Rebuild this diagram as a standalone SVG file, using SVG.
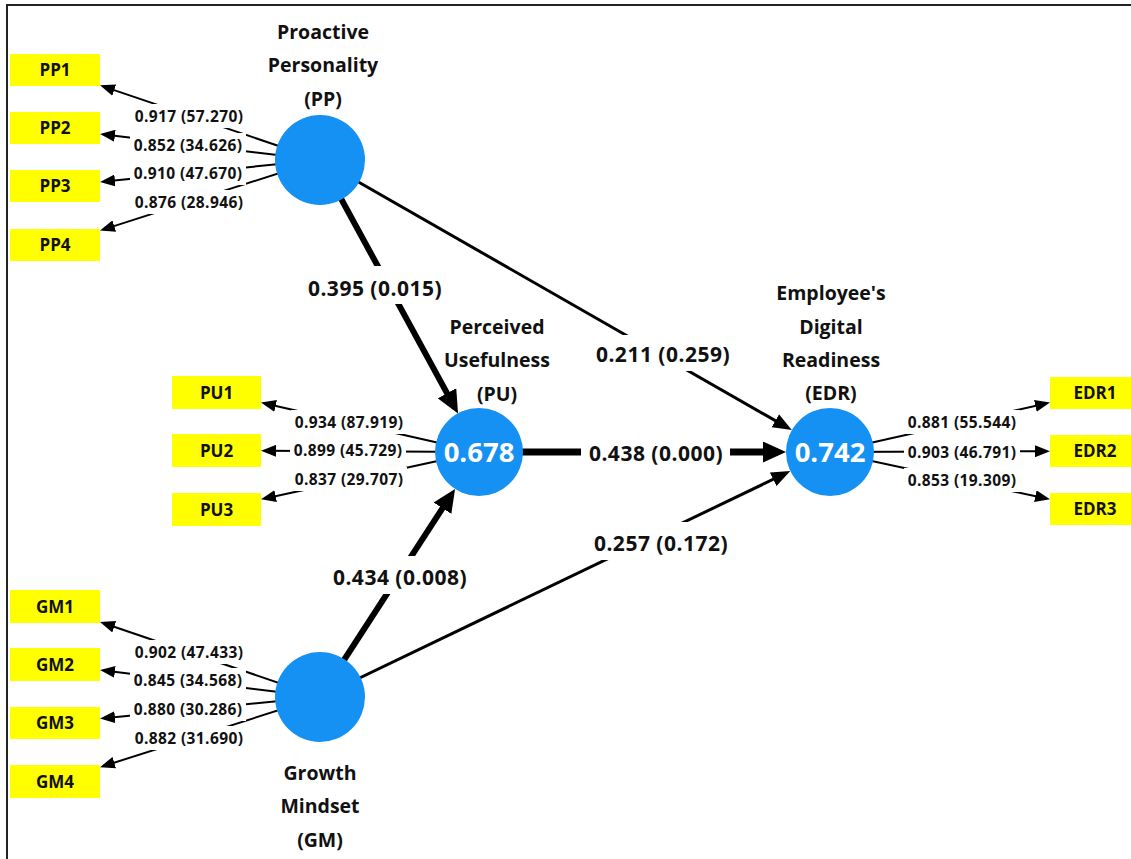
<svg xmlns="http://www.w3.org/2000/svg" width="1131" height="859" viewBox="0 0 1131 859">
<style>
  .bg{fill:#ffffff}
  .frame{stroke:#222;stroke-width:2;fill:none}
  .ld{stroke:#000;stroke-width:2;fill:none}
  .pm{stroke:#000;stroke-width:3;fill:none}
  .pl{stroke:#000;stroke-width:6;fill:none}
  .lab{fill:#fff}
  .lt{font-family:"Open Sans","Noto Sans",sans-serif;font-weight:700;font-size:15.5px;letter-spacing:0.4px;fill:#111;text-anchor:middle}
  .pt{font-family:"Open Sans","Noto Sans",sans-serif;font-weight:700;font-size:21px;letter-spacing:0.5px;fill:#111;text-anchor:middle}
  .tt{font-family:"Open Sans","Noto Sans",sans-serif;font-weight:700;font-size:19.5px;fill:#111;text-anchor:middle}
  .bx{fill:#ffff00}
  .bt{font-family:"Open Sans","Noto Sans",sans-serif;font-weight:700;font-size:17px;fill:#111;text-anchor:middle}
  .lv{fill:#1591f4}
  .vt{font-family:"Open Sans","Noto Sans",sans-serif;font-weight:700;font-size:27.5px;fill:#fff;text-anchor:middle}
</style>
<defs>
  <marker id="aS" markerUnits="userSpaceOnUse" markerWidth="15" markerHeight="12" refX="11" refY="6" orient="auto"><path d="M0,0 L15,6 L0,12 z" fill="#000"/></marker>
  <marker id="aM" markerUnits="userSpaceOnUse" markerWidth="19" markerHeight="15" refX="13" refY="7.5" orient="auto"><path d="M0,0 L19,7.5 L0,15 z" fill="#000"/></marker>
  <marker id="aL" markerUnits="userSpaceOnUse" markerWidth="23" markerHeight="21" refX="15" refY="10.5" orient="auto"><path d="M0,0 L23,10.5 L0,21 z" fill="#000"/></marker>
</defs>
<rect class="bg" x="0" y="0" width="1131" height="859"/>
<path class="frame" d="M7,859 L7,5 L1131,5"/>

<g id="connectors">
  <!-- outer loadings -->
  <line class="ld" x1="320" y1="160" x2="103.8" y2="86.6" marker-end="url(#aS)"/>
  <line class="ld" x1="320" y1="160" x2="104" y2="134.4" marker-end="url(#aS)"/>
  <line class="ld" x1="320" y1="160" x2="104" y2="181.6" marker-end="url(#aS)"/>
  <line class="ld" x1="320" y1="160" x2="103.8" y2="229.4" marker-end="url(#aS)"/>
  <line class="ld" x1="320" y1="697" x2="103.8" y2="623.2" marker-end="url(#aS)"/>
  <line class="ld" x1="320" y1="697" x2="104" y2="670.5" marker-end="url(#aS)"/>
  <line class="ld" x1="320" y1="697" x2="104" y2="718.2" marker-end="url(#aS)"/>
  <line class="ld" x1="320" y1="697" x2="103.8" y2="766" marker-end="url(#aS)"/>
  <line class="ld" x1="479" y1="452" x2="264.9" y2="403.5" marker-end="url(#aS)"/>
  <line class="ld" x1="479" y1="452" x2="265" y2="450.8" marker-end="url(#aS)"/>
  <line class="ld" x1="479" y1="452" x2="264.9" y2="498.5" marker-end="url(#aS)"/>
  <line class="ld" x1="830" y1="452" x2="1046.1" y2="403.5" marker-end="url(#aS)"/>
  <line class="ld" x1="830" y1="452" x2="1046" y2="451.2" marker-end="url(#aS)"/>
  <line class="ld" x1="830" y1="452" x2="1046.1" y2="498.5" marker-end="url(#aS)"/>
  <!-- structural paths -->
  <line class="pl" x1="320" y1="160" x2="454.2" y2="406.4" marker-end="url(#aL)"/>
  <line class="pm" x1="320" y1="160" x2="786.6" y2="427.1" marker-end="url(#aM)"/>
  <line class="pl" style="stroke-width:7" x1="479" y1="452" x2="778" y2="452" marker-end="url(#aL)"/>
  <line class="pl" x1="320" y1="697" x2="450.7" y2="495.6" marker-end="url(#aL)"/>
  <line class="pm" x1="320" y1="697" x2="784.9" y2="473.7" marker-end="url(#aM)"/>

  <!-- loading labels -->
  <rect class="lab" x="131" y="104" width="116" height="24"/><text class="lt" x="189" y="121.5">0.917 (57.270)</text>
  <rect class="lab" x="130" y="133" width="116" height="24"/><text class="lt" x="188" y="150.5">0.852 (34.626)</text>
  <rect class="lab" x="130" y="161" width="116" height="24"/><text class="lt" x="188" y="178.5">0.910 (47.670)</text>
  <rect class="lab" x="131" y="190" width="116" height="24"/><text class="lt" x="189" y="207.5">0.876 (28.946)</text>
  <rect class="lab" x="131" y="640" width="116" height="24"/><text class="lt" x="189" y="657.5">0.902 (47.433)</text>
  <rect class="lab" x="130" y="668" width="116" height="24"/><text class="lt" x="188" y="685.5">0.845 (34.568)</text>
  <rect class="lab" x="130" y="697" width="116" height="24"/><text class="lt" x="188" y="714.5">0.880 (30.286)</text>
  <rect class="lab" x="131" y="726" width="116" height="24"/><text class="lt" x="189" y="743.5">0.882 (31.690)</text>
  <rect class="lab" x="291" y="410" width="116" height="24"/><text class="lt" x="349" y="427.5">0.934 (87.919)</text>
  <rect class="lab" x="290" y="438" width="116" height="24"/><text class="lt" x="348" y="455.5">0.899 (45.729)</text>
  <rect class="lab" x="291" y="467" width="116" height="24"/><text class="lt" x="349" y="484.5">0.837 (29.707)</text>
  <rect class="lab" x="904" y="410" width="116" height="24"/><text class="lt" x="962" y="427.5">0.881 (55.544)</text>
  <rect class="lab" x="904" y="440" width="116" height="24"/><text class="lt" x="962" y="457.5">0.903 (46.791)</text>
  <rect class="lab" x="904" y="468" width="116" height="24"/><text class="lt" x="962" y="485.5">0.853 (19.309)</text>

  <!-- path labels -->
  <rect class="lab" x="306" y="266" width="138" height="38"/><text class="pt" x="375" y="295.5">0.395 (0.015)</text>
  <rect class="lab" x="593" y="335" width="140" height="36"/><text class="pt" x="663" y="361.5">0.211 (0.259)</text>
  <rect class="lab" x="581" y="434" width="149" height="38"/><text class="pt" x="656" y="460.5">0.438 (0.000)</text>
  <rect class="lab" x="592" y="522" width="138" height="38"/><text class="pt" x="661" y="550.5">0.257 (0.172)</text>
  <rect class="lab" x="331" y="556" width="138" height="38"/><text class="pt" x="400" y="584.5">0.434 (0.008)</text>
</g>

<g id="PP">
  <circle class="lv" cx="320" cy="160" r="45"/>
  <text class="tt" x="323" y="38.5">Proactive</text>
  <text class="tt" x="323" y="71.5">Personality</text>
  <text class="tt" x="323" y="105.5">(PP)</text>
</g>
<g id="PU">
  <circle class="lv" cx="479" cy="452" r="44"/>
  <text class="vt" x="479" y="461.5">0.678</text>
  <text class="tt" x="497" y="333.5">Perceived</text>
  <text class="tt" x="497" y="366.5">Usefulness</text>
  <text class="tt" x="497" y="401">(PU)</text>
</g>
<g id="EDR">
  <circle class="lv" cx="830" cy="452" r="44"/>
  <text class="vt" x="830" y="461.5">0.742</text>
  <text class="tt" x="831" y="299.5">Employee's</text>
  <text class="tt" x="831" y="333.5">Digital</text>
  <text class="tt" x="831" y="366.5">Readiness</text>
  <text class="tt" x="831" y="399.5">(EDR)</text>
</g>
<g id="GM">
  <circle class="lv" cx="320" cy="697" r="45"/>
  <text class="tt" x="320" y="779.5">Growth</text>
  <text class="tt" x="320" y="812.5">Mindset</text>
  <text class="tt" x="320" y="846.5">(GM)</text>
</g>

<g id="PP1"><rect class="bx" x="10" y="54" width="90" height="32"/><text class="bt" x="55" y="76">PP1</text></g>
<g id="PP2"><rect class="bx" x="10" y="112" width="90" height="32"/><text class="bt" x="55" y="134">PP2</text></g>
<g id="PP3"><rect class="bx" x="10" y="170" width="90" height="32"/><text class="bt" x="55" y="192">PP3</text></g>
<g id="PP4"><rect class="bx" x="10" y="229" width="90" height="32"/><text class="bt" x="55" y="251">PP4</text></g>
<g id="PU1"><rect class="bx" x="172" y="376" width="89" height="33"/><text class="bt" x="216.5" y="398.5">PU1</text></g>
<g id="PU2"><rect class="bx" x="172" y="434" width="89" height="33"/><text class="bt" x="216.5" y="456.5">PU2</text></g>
<g id="PU3"><rect class="bx" x="172" y="493" width="89" height="33"/><text class="bt" x="216.5" y="515.5">PU3</text></g>
<g id="GM1"><rect class="bx" x="10" y="590" width="90" height="33"/><text class="bt" x="55" y="612.5">GM1</text></g>
<g id="GM2"><rect class="bx" x="10" y="648" width="90" height="33"/><text class="bt" x="55" y="670.5">GM2</text></g>
<g id="GM3"><rect class="bx" x="10" y="707" width="90" height="32"/><text class="bt" x="55" y="729">GM3</text></g>
<g id="GM4"><rect class="bx" x="10" y="765" width="90" height="33"/><text class="bt" x="55" y="787.5">GM4</text></g>
<g id="EDR1"><rect class="bx" x="1050" y="377" width="90" height="32"/><text class="bt" x="1095" y="399">EDR1</text></g>
<g id="EDR2"><rect class="bx" x="1050" y="435" width="90" height="32"/><text class="bt" x="1095" y="457">EDR2</text></g>
<g id="EDR3"><rect class="bx" x="1050" y="493" width="90" height="32"/><text class="bt" x="1095" y="515">EDR3</text></g>
</svg>
